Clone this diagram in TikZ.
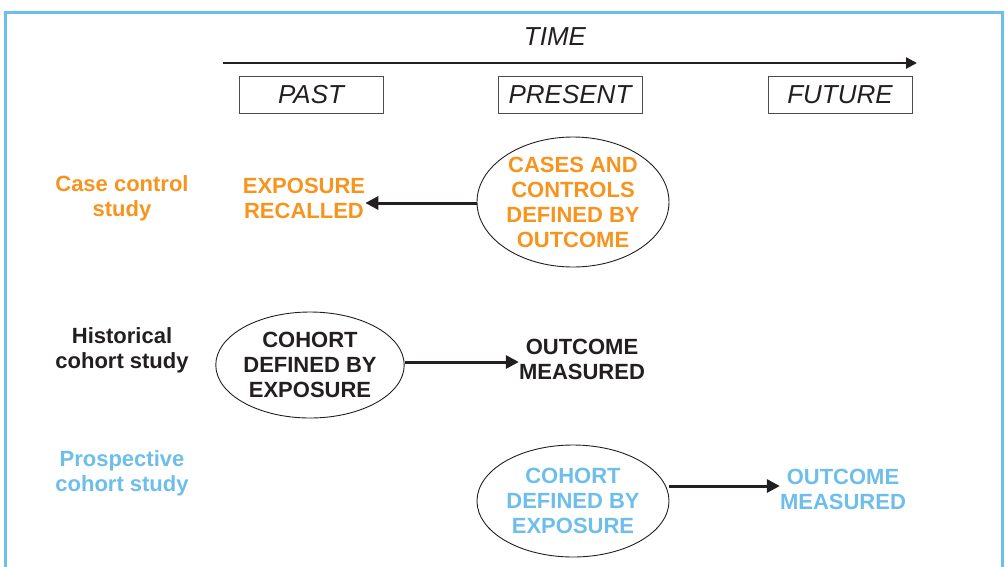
\documentclass[tikz,border=0pt]{standalone}
\usepackage{fontspec}
\setmainfont{Liberation Sans}
\usetikzlibrary{arrows.meta,shapes.geometric}
\definecolor{studyorange}{RGB}{247,148,30}
\definecolor{studyblue}{RGB}{109,190,235}
\definecolor{studyblack}{RGB}{35,31,32}
\tikzset{
  label/.style={font=\fontsize{22}{25}\selectfont\bfseries, align=center, inner sep=0pt},
  era/.style={draw=gray!60!black, line width=0.8pt, minimum width=144pt, minimum height=37pt,
    font=\fontsize{26}{28}\selectfont\itshape, text=studyblack, inner sep=0pt},
  oval/.style={ellipse, draw=studyblack, line width=0.9pt, inner sep=0pt, label},
  flow/.style={line width=3pt, studyblack, -{Triangle[length=13pt,width=13pt]}}
}
\begin{document}
\begin{tikzpicture}[x=1pt, y=-1pt]
  \useasboundingbox (0,0) rectangle (1005,566);
  % frame
  \draw[studyblue, line width=3pt] (5,12) rectangle (1002,590);

  % time axis
  \node[font=\fontsize{26}{28}\selectfont\itshape, text=studyblack, inner sep=0pt] (time) at (555,37) {TIME};
  \coordinate (tstart) at (223,63);
  \coordinate (tend) at (917,63);
  \draw[line width=2.5pt, studyblack, -{Triangle[length=11pt,width=11pt]}] (tstart) -- (tend);
  \node[era] (past) at (311,95) {PAST};
  \node[era] (present) at (570,95) {PRESENT};
  \node[era] (future) at (840,95) {FUTURE};

  % case control study
  \node[label, text=studyorange] (cclabel) at (122,198) {Case control\\study};
  \node[label, text=studyorange] (recall) at (304,198) {EXPOSURE\\RECALLED};
  \node[oval, text=studyorange, minimum width=192pt, minimum height=130pt] (ccoval) at (573,202)
    {CASES AND\\CONTROLS\\DEFINED BY\\OUTCOME};
  \draw[flow] (ccoval.west |- 0,203) -- (recall.east |- 0,203);

  % historical cohort study
  \node[label, text=studyblack] (hclabel) at (122,350) {Historical\\cohort study};
  \node[oval, text=studyblack, minimum width=188pt, minimum height=106pt] (hcoval) at (310,365)
    {COHORT\\DEFINED BY\\EXPOSURE};
  \node[label, text=studyblack] (hcout) at (582,359) {OUTCOME\\MEASURED};
  \draw[flow] (hcoval.east |- 0,362) -- (hcout.west |- 0,362);

  % prospective cohort study
  \node[label, text=studyblue] (pclabel) at (122,473) {Prospective\\cohort study};
  \node[oval, text=studyblue, minimum width=192pt, minimum height=112pt] (pcoval) at (573,501)
    {COHORT\\DEFINED BY\\EXPOSURE};
  \node[label, text=studyblue] (pcout) at (843,489) {OUTCOME\\MEASURED};
  \draw[flow] (pcoval.east |- 0,486) -- (pcout.west |- 0,486);
\end{tikzpicture}
\end{document}
